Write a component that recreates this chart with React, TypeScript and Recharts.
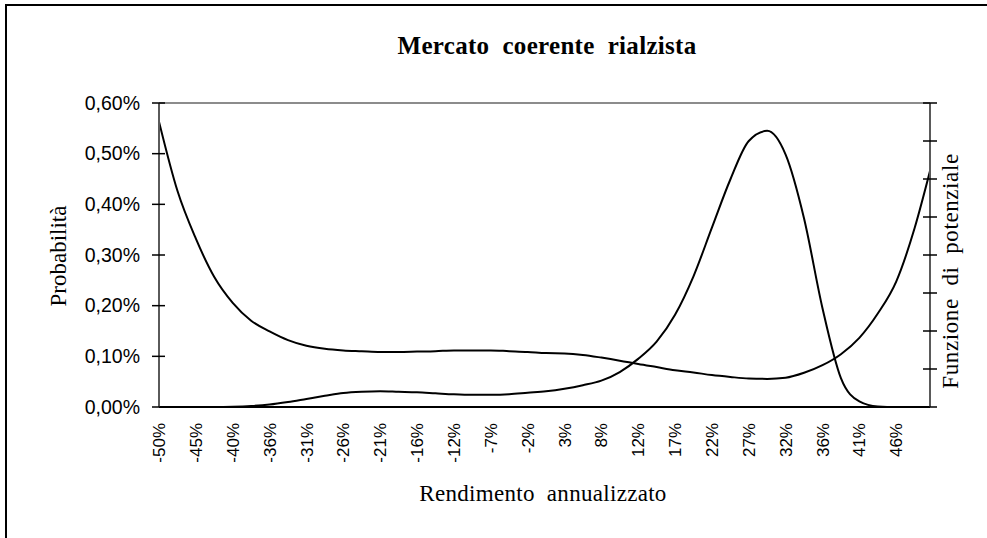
import React from 'react';
import { LineChart, Line, XAxis, YAxis, ReferenceLine } from 'recharts';

// rendimento annualizzato (%)
const rendimento = [
  -50, -47.6, -45.2, -42.8, -40.4, -38, -35.6, -33.2, -30.8, -28.4, -26,
  -23.6, -21.2, -18.8, -16.4, -14, -11.6, -9.2, -6.8, -4.4, -2, 0.4, 2.8,
  5.2, 7.6, 10, 12.4, 14.8, 17.2, 19.6, 22, 24.4, 26.8, 29.2, 31.6, 34,
  36.4, 38.8, 41.2, 43.6, 46, 48.4, 50.4,
];

// probabilità (%) - asse sinistro
const probabilita = [
  0, 0, 0, 0, 0.0005, 0.002, 0.005, 0.01, 0.016, 0.022, 0.0275, 0.03,
  0.031, 0.03, 0.029, 0.027, 0.025, 0.024, 0.024, 0.025, 0.028, 0.031,
  0.036, 0.043, 0.052, 0.069, 0.095, 0.129, 0.182, 0.258, 0.354, 0.449,
  0.525, 0.545, 0.498, 0.372, 0.195, 0.057, 0.011, 0.001, 0, 0, 0,
];

// funzione di potenziale - asse destro (senza etichette)
const potenziale = [
  7.51, 5.69, 4.43, 3.42, 2.74, 2.27, 1.99, 1.76, 1.61, 1.53, 1.49, 1.47,
  1.45, 1.45, 1.46, 1.47, 1.49, 1.49, 1.49, 1.47, 1.45, 1.42, 1.41, 1.37,
  1.3, 1.22, 1.13, 1.05, 0.97, 0.91, 0.84, 0.79, 0.75, 0.74, 0.77, 0.9,
  1.1, 1.39, 1.82, 2.46, 3.3, 4.71, 6.21,
];

const xTicks = [
  -50, -45.2, -40.4, -35.6, -30.8, -26, -21.2, -16.4, -11.6, -6.8, -2, 2.8,
  7.6, 12.4, 17.2, 22, 26.8, 31.6, 36.4, 41.2, 46,
];
const yTicks = [0, 0.1, 0.2, 0.3, 0.4, 0.5, 0.6];
const rightTicks = [0, 1, 2, 3, 4, 5, 6, 7, 8];

const data = rendimento.map((r, i) => ({
  r,
  prob: probabilita[i],
  pot: potenziale[i],
}));

const SANS = '"Liberation Sans", Arial, sans-serif';
const SERIF = '"Liberation Serif", "Times New Roman", serif';
const AXIS_GRAY = '#5a5a5a';

const LeftTick = (props: any) => {
  const { x, y, payload } = props;
  const ax = x + 19;
  return (
    <g>
      <line x1={ax - 7} x2={ax + 6} y1={y} y2={y} stroke="#000" strokeWidth={1.5} />
      <text x={x} y={y} dy="0.35em" textAnchor="end" fontFamily={SANS} fontSize={19.5} fill="#000">
        {payload.value.toFixed(2).replace('.', ',') + '%'}
      </text>
    </g>
  );
};

const RightTick = (props: any) => {
  const { x, y } = props;
  return <line x1={x - 7} x2={x + 7} y1={y} y2={y} stroke="#000" strokeWidth={1.5} />;
};

const BottomTick = (props: any) => {
  const { x, y, payload } = props;
  return (
    <text
      x={x}
      y={y}
      dy="0.36em"
      textAnchor="end"
      transform={`rotate(-90, ${x}, ${y})`}
      fontFamily={SANS}
      fontSize={17}
      fill="#000"
    >
      {Math.round(payload.value) + '%'}
    </text>
  );
};

const rotated = (cx: number, cy: number, spacing: number): React.CSSProperties => ({
  position: 'absolute',
  left: cx,
  top: cy,
  transform: 'translate(-50%, -50%) rotate(-90deg)',
  whiteSpace: 'pre',
  fontFamily: SERIF,
  fontSize: 23,
  letterSpacing: spacing,
  lineHeight: 1,
});

export default function App() {
  return (
    <div
      style={{
        position: 'absolute',
        left: 0,
        top: 0,
        width: 987,
        height: 538,
        overflow: 'hidden',
        background: '#fff',
      }}
    >
      {/* cornice esterna */}
      <div
        style={{
          position: 'absolute',
          left: 5,
          top: 4,
          width: 1100,
          height: 700,
          borderLeft: '2px solid #000',
          borderTop: '2px solid #000',
        }}
      />
      <LineChart
        width={987}
        height={538}
        data={data}
        margin={{ top: 103, right: 0, bottom: 0, left: 0 }}
      >
        <XAxis
          dataKey="r"
          type="number"
          domain={[-50, 50.4]}
          ticks={xTicks}
          interval={0}
          height={131}
          tickSize={0}
          tickMargin={16}
          tickLine={false}
          axisLine={{ stroke: '#000', strokeWidth: 2 }}
          tick={<BottomTick />}
          allowDataOverflow
        />
        <YAxis
          yAxisId="p"
          width={159}
          domain={[0, 0.6]}
          ticks={yTicks}
          interval={0}
          tickSize={0}
          tickMargin={19}
          tickLine={false}
          axisLine={{ stroke: AXIS_GRAY, strokeWidth: 2 }}
          tick={<LeftTick />}
        />
        <YAxis
          yAxisId="f"
          orientation="right"
          width={57}
          domain={[0, 8]}
          ticks={rightTicks}
          interval={0}
          tickSize={0}
          tickMargin={0}
          tickLine={false}
          axisLine={{ stroke: AXIS_GRAY, strokeWidth: 2 }}
          tick={<RightTick />}
        />
        <ReferenceLine yAxisId="p" y={0.6} stroke="#8c8c8c" strokeWidth={2} />
        <Line
          yAxisId="p"
          type="monotone"
          dataKey="prob"
          stroke="#000"
          strokeWidth={2}
          dot={false}
          isAnimationActive={false}
        />
        <Line
          yAxisId="f"
          type="monotone"
          dataKey="pot"
          stroke="#000"
          strokeWidth={2}
          dot={false}
          isAnimationActive={false}
        />
      </LineChart>
      <div
        style={{
          position: 'absolute',
          left: 547,
          top: 45,
          transform: 'translate(-50%, -50%)',
          whiteSpace: 'pre',
          fontFamily: SERIF,
          fontWeight: 'bold',
          fontSize: 25,
          letterSpacing: 0.3,
          lineHeight: 1,
        }}
      >
        {'Mercato  coerente  rialzista'}
      </div>
      <div style={rotated(58, 256, 0)}>{'Probabilità'}</div>
      <div style={rotated(950, 271, 0.6)}>{'Funzione  di  potenziale'}</div>
      <div
        style={{
          position: 'absolute',
          left: 543,
          top: 493,
          transform: 'translate(-50%, -50%)',
          whiteSpace: 'pre',
          fontFamily: SERIF,
          fontSize: 23,
          letterSpacing: 0.3,
          lineHeight: 1,
        }}
      >
        {'Rendimento  annualizzato'}
      </div>
    </div>
  );
}
